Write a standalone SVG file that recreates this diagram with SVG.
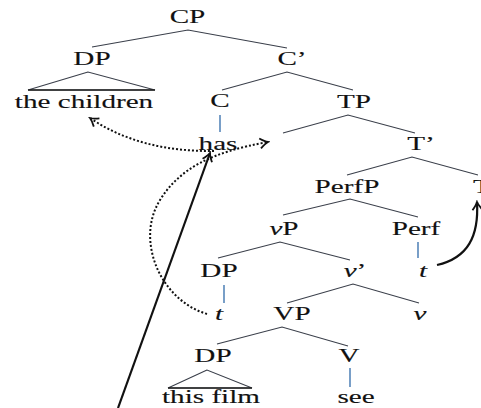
<svg xmlns="http://www.w3.org/2000/svg" width="481" height="408" viewBox="0 0 481 408">
<defs>
<style>
text{font-family:"Liberation Serif","Times New Roman",serif;font-size:18px;fill:#111;stroke:#111;stroke-width:0.12;text-anchor:middle}
.i{font-style:italic}
.br{stroke:#3a3f4a;stroke-width:1.1;fill:none}
.vl{stroke:#3f76b0;stroke-width:1.4;fill:none}
.dot{stroke:#111;stroke-width:2;stroke-dasharray:2 2;fill:none}
.sol{stroke:#111;stroke-width:2.2;fill:none}
</style>
<marker id="ah" viewBox="-10 -6 12 12" markerWidth="12" markerHeight="12" refX="0" refY="0" orient="auto" markerUnits="userSpaceOnUse">
<path d="M-8,-5 Q-3,-1 0,0 Q-3,1 -8,5" fill="none" stroke="#111" stroke-width="1.8"/>
</marker>
</defs>
<rect width="481" height="408" fill="#fff"/>

<g id="connectors">
<polyline class="br" points="92,47 188,30 287,48"/>
<polygon class="br" points="88,72 28,90 155,90"/>
<line x1="28" y1="90" x2="155" y2="90" stroke="#222" stroke-width="1.6"/>
<polyline class="br" points="222,90 287,72 353,90"/>
<line class="vl" x1="220" y1="115" x2="220" y2="132"/>
<polyline class="br" points="283,133 348,115 415,133"/>
<polyline class="br" points="347,175 412,157 478,175"/>
<polyline class="br" points="283,215 350,199 418,217"/>
<polyline class="br" points="218,258 280,242 350,260"/>
<line class="vl" x1="418" y1="242" x2="418" y2="258"/>
<line class="vl" x1="224" y1="285" x2="224" y2="303"/>
<polyline class="br" points="287,303 353,284 419,303"/>
<polyline class="br" points="217,344 282,327 348,346"/>
<polygon class="br" points="207,370 168,388 252,388"/>
<line x1="168" y1="388" x2="252" y2="388" stroke="#222" stroke-width="1.6"/>
<line class="vl" x1="350" y1="368" x2="350" y2="387"/>

<path class="dot" d="M214,151 Q140,152 90,118" marker-end="url(#ah)"/>
<path class="dot" d="M207,314 C160,300 135,240 160,200 C180,168 212,152 268,142" marker-end="url(#ah)"/>
<path class="sol" d="M118,408 L210,153" marker-end="url(#ah)"/>
<path class="sol" d="M437,265 C468,258 479,236 477,202" marker-end="url(#ah)"/>
</g>

<g id="n-CP"><text transform="translate(187.5,23) scale(1.62,1)">CP</text></g>
<g id="n-DP1"><text transform="translate(92,65) scale(1.62,1)">DP</text></g>
<g id="n-children"><text transform="translate(84,108) scale(1.62,1)">the children</text></g>
<g id="n-Cbar"><text transform="translate(292,65) scale(1.62,1)">C’</text></g>
<g id="n-C"><text transform="translate(220,107) scale(1.62,1)">C</text></g>
<g id="n-has"><text transform="translate(218,150) scale(1.62,1)">has</text></g>
<g id="n-TP"><text transform="translate(354,108) scale(1.62,1)">TP</text></g>
<g id="n-Tbar"><text transform="translate(421,150) scale(1.62,1)">T’</text></g>
<g id="n-PerfP"><text transform="translate(347,193) scale(1.62,1)">PerfP</text></g>
<g id="n-T"><text transform="translate(482,193) scale(1.62,1)">T</text></g>
<g id="n-vP"><text transform="translate(284,235) scale(1.62,1)"><tspan class="i">v</tspan>P</text></g>
<g id="n-Perf"><text transform="translate(416,235) scale(1.62,1)">Perf</text></g>
<g id="n-DP2"><text transform="translate(219,277) scale(1.62,1)">DP</text></g>
<g id="n-vbar"><text transform="translate(355,277) scale(1.62,1)"><tspan class="i">v</tspan>’</text></g>
<g id="n-t2"><text class="i" transform="translate(423,277) scale(1.62,1)">t</text></g>
<g id="n-t1"><text class="i" transform="translate(219,320) scale(1.62,1)">t</text></g>
<g id="n-VP"><text transform="translate(292,320) scale(1.62,1)">VP</text></g>
<g id="n-v"><text class="i" transform="translate(420,320) scale(1.62,1)">v</text></g>
<g id="n-DP3"><text transform="translate(213,362) scale(1.62,1)">DP</text></g>
<g id="n-V"><text transform="translate(349,362) scale(1.62,1)">V</text></g>
<g id="n-thisfilm"><text transform="translate(211,403) scale(1.62,1)">this film</text></g>
<g id="n-see"><text transform="translate(356,403) scale(1.62,1)">see</text></g>
</svg>
